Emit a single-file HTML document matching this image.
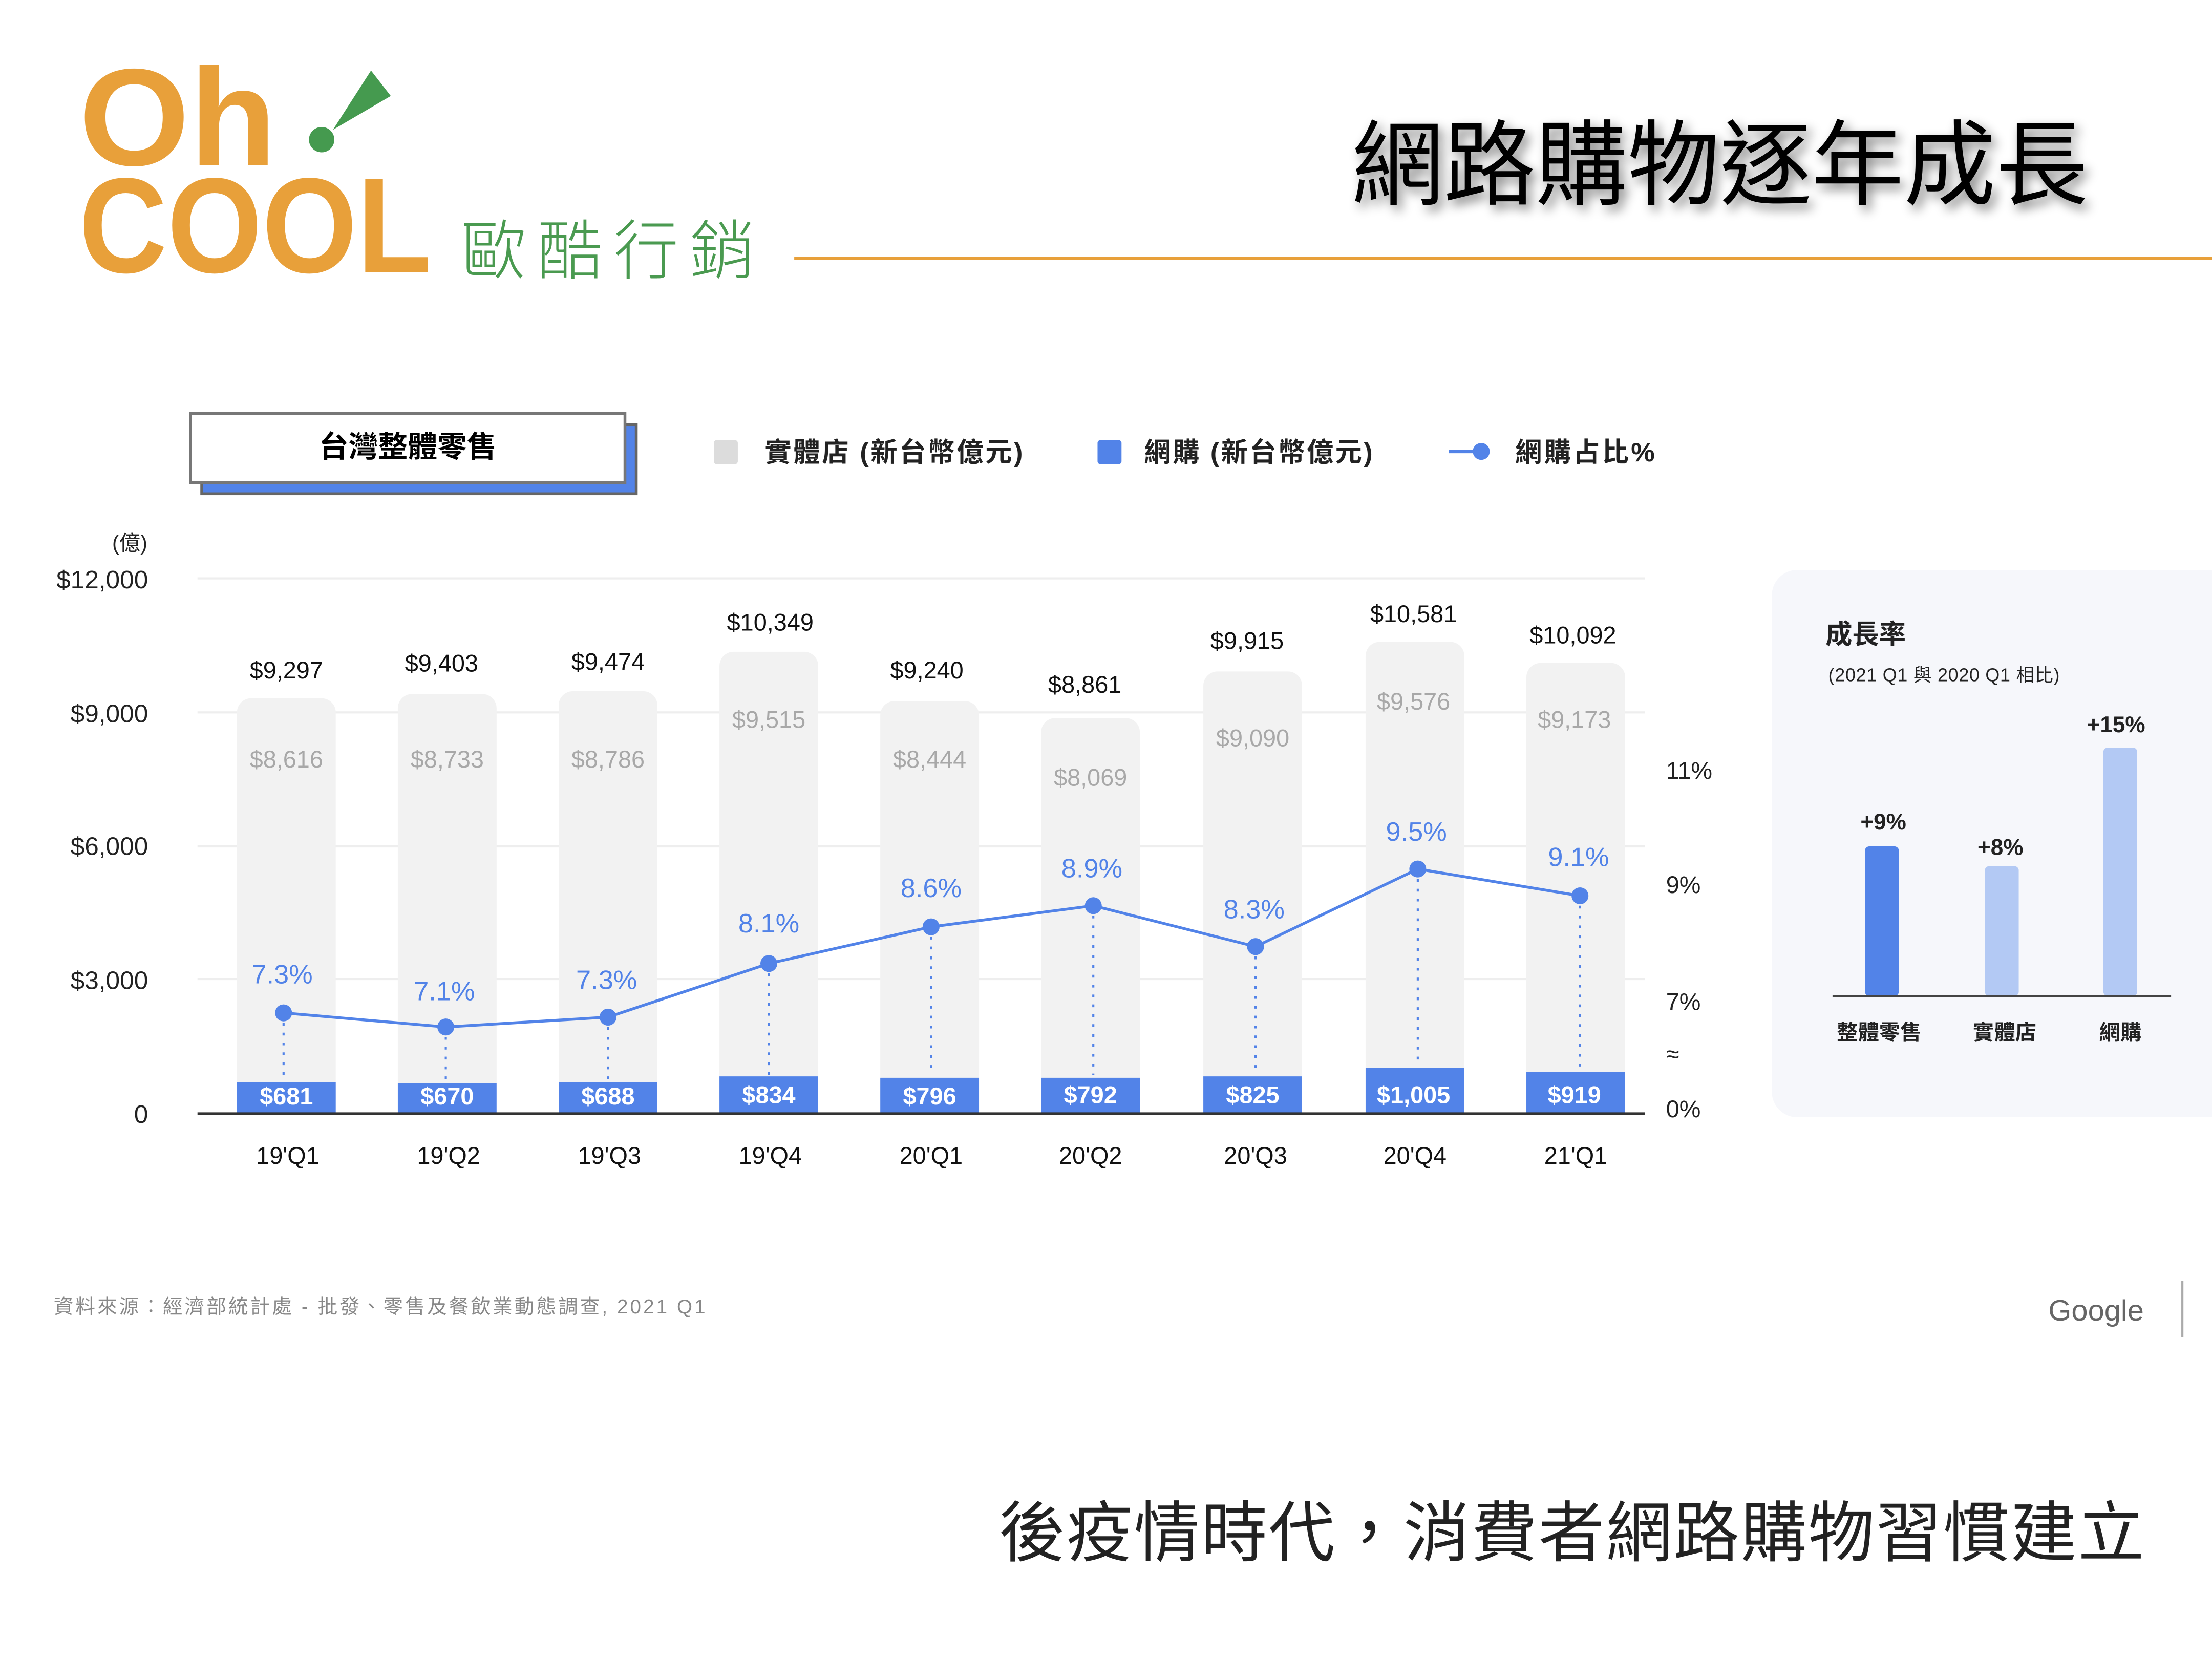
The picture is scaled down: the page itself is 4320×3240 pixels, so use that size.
<!DOCTYPE html>
<html><head><meta charset="utf-8">
<style>
html,body{margin:0;padding:0;background:#fff;}
svg{display:block;}
text{font-family:"Liberation Sans","Noto Sans CJK TC",sans-serif;}
</style></head>
<body>
<svg width="4320" height="3240" viewBox="0 0 1568 1176" xmlns="http://www.w3.org/2000/svg">
<defs>
<filter id="sh" x="-10%" y="-30%" width="120%" height="160%"><feGaussianBlur in="SourceAlpha" stdDeviation="4"/><feOffset dx="3" dy="4"/><feComponentTransfer><feFuncA type="linear" slope="0.5"/></feComponentTransfer><feMerge><feMergeNode/><feMergeNode in="SourceGraphic"/></feMerge></filter>
</defs>
<rect width="1568" height="1176" fill="#fff"/>
<!-- logo -->
<text x="56" y="117" font-size="98" font-weight="bold" fill="#E8A03A" textLength="140" lengthAdjust="spacingAndGlyphs">Oh</text>
<text x="56" y="193" font-size="96" font-weight="bold" fill="#E8A03A" textLength="250" lengthAdjust="spacingAndGlyphs">COOL</text>
<circle cx="228" cy="99" r="9" fill="#459A4F"/>
<polygon points="263,50 277,68 236,92" fill="#459A4F"/>
<text x="327" y="194" font-size="46" fill="#4A9A50" letter-spacing="8" textLength="216" style="font-family:'Noto Sans CJK TC',sans-serif;font-weight:300">歐酷行銷</text>
<line x1="563" y1="183" x2="1568" y2="183" stroke="#E8A03A" stroke-width="2"/>
<!-- title -->
<text x="958" y="140" font-size="66" fill="#000" filter="url(#sh)" textLength="522" lengthAdjust="spacingAndGlyphs">網路購物逐年成長</text>
<!-- box -->
<rect x="143" y="301" width="308" height="49" fill="#5283E8" stroke="#666" stroke-width="2"/>
<rect x="135" y="293" width="308" height="49" fill="#fff" stroke="#777" stroke-width="2"/>
<text x="289" y="324" font-size="21" font-weight="bold" text-anchor="middle">台灣整體零售</text>
<!-- legend -->
<rect x="506" y="312" width="17" height="17" rx="2" fill="#DCDCDC"/>
<text x="542" y="327" font-size="19" font-weight="bold" fill="#222" textLength="183">實體店 (新台幣億元)</text>
<rect x="778" y="312" width="17" height="17" rx="2" fill="#5283E8"/>
<text x="811" y="327" font-size="19" font-weight="bold" fill="#222" textLength="162">網購 (新台幣億元)</text>
<line x1="1027" y1="320" x2="1056" y2="320" stroke="#5283E8" stroke-width="2.5"/>
<circle cx="1050" cy="320" r="6" fill="#5283E8"/>
<text x="1074" y="327" font-size="19" font-weight="bold" fill="#222" textLength="99">網購占比%</text>
<!-- axis -->
<text x="92" y="390" font-size="15" text-anchor="middle" fill="#222">(億)</text>
<g font-size="18" fill="#222" text-anchor="end">
<text x="105" y="417">$12,000</text>
<text x="105" y="512">$9,000</text>
<text x="105" y="606">$6,000</text>
<text x="105" y="701">$3,000</text>
<text x="105" y="796">0</text>
</g>
<g stroke="#EEEEEE" stroke-width="1.5">
<line x1="140" y1="410" x2="1166" y2="410"/>
<line x1="140" y1="505" x2="1166" y2="505"/>
<line x1="140" y1="600" x2="1166" y2="600"/>
<line x1="140" y1="694" x2="1166" y2="694"/>
</g>
<g font-size="17" fill="#222">
<text x="1181" y="552">11%</text>
<text x="1181" y="633">9%</text>
<text x="1181" y="716">7%</text>
<text x="1181" y="753">≈</text>
<text x="1181" y="792">0%</text>
</g>
<!-- bars -->
<g fill="#F2F2F2">
<rect x="168" y="495" width="70" height="294" rx="10"/>
<rect x="282" y="492" width="70" height="297" rx="10"/>
<rect x="396" y="490" width="70" height="299" rx="10"/>
<rect x="510" y="462" width="70" height="327" rx="10"/>
<rect x="624" y="497" width="70" height="292" rx="10"/>
<rect x="738" y="509" width="70" height="280" rx="10"/>
<rect x="853" y="476" width="70" height="313" rx="10"/>
<rect x="968" y="455" width="70" height="334" rx="10"/>
<rect x="1082" y="470" width="70" height="319" rx="10"/>
</g>
<g fill="#5283E8">
<rect x="168" y="767" width="70" height="22"/>
<rect x="282" y="768" width="70" height="21"/>
<rect x="396" y="767" width="70" height="22"/>
<rect x="510" y="763" width="70" height="26"/>
<rect x="624" y="764" width="70" height="25"/>
<rect x="738" y="764" width="70" height="25"/>
<rect x="853" y="763" width="70" height="26"/>
<rect x="968" y="757" width="70" height="32"/>
<rect x="1082" y="760" width="70" height="29"/>
</g>
<line x1="140" y1="789.5" x2="1166" y2="789.5" stroke="#333" stroke-width="2"/>
<!-- totals -->
<g font-size="17" fill="#111" text-anchor="middle">
<text x="203" y="481">$9,297</text>
<text x="313" y="476">$9,403</text>
<text x="431" y="475">$9,474</text>
<text x="546" y="447">$10,349</text>
<text x="657" y="481">$9,240</text>
<text x="769" y="491">$8,861</text>
<text x="884" y="460">$9,915</text>
<text x="1002" y="441">$10,581</text>
<text x="1115" y="456">$10,092</text>
</g>
<g font-size="17" fill="#A8A8A8" text-anchor="middle">
<text x="203" y="544">$8,616</text>
<text x="317" y="544">$8,733</text>
<text x="431" y="544">$8,786</text>
<text x="545" y="516">$9,515</text>
<text x="659" y="544">$8,444</text>
<text x="773" y="557">$8,069</text>
<text x="888" y="529">$9,090</text>
<text x="1002" y="503">$9,576</text>
<text x="1116" y="516">$9,173</text>
</g>
<g font-size="17" font-weight="bold" fill="#fff" text-anchor="middle">
<text x="203" y="783">$681</text>
<text x="317" y="783">$670</text>
<text x="431" y="783">$688</text>
<text x="545" y="782">$834</text>
<text x="659" y="783">$796</text>
<text x="773" y="782">$792</text>
<text x="888" y="782">$825</text>
<text x="1002" y="782">$1,005</text>
<text x="1116" y="782">$919</text>
</g>
<!-- dotted drops -->
<g stroke="#5283E8" stroke-width="1.5" stroke-dasharray="2,5">
<line x1="201" y1="718" x2="201" y2="766"/>
<line x1="316" y1="728" x2="316" y2="766"/>
<line x1="431" y1="721" x2="431" y2="766"/>
<line x1="545" y1="683" x2="545" y2="762"/>
<line x1="660" y1="657" x2="660" y2="762"/>
<line x1="775" y1="642" x2="775" y2="762"/>
<line x1="890" y1="671" x2="890" y2="762"/>
<line x1="1005" y1="616" x2="1005" y2="756"/>
<line x1="1120" y1="635" x2="1120" y2="759"/>
</g>
<polyline points="201,718 316,728 431,721 545,683 660,657 775,642 890,671 1005,616 1120,635" fill="none" stroke="#5283E8" stroke-width="2"/>
<g fill="#5283E8">
<circle cx="201" cy="718" r="6"/><circle cx="316" cy="728" r="6"/><circle cx="431" cy="721" r="6"/>
<circle cx="545" cy="683" r="6"/><circle cx="660" cy="657" r="6"/><circle cx="775" cy="642" r="6"/>
<circle cx="890" cy="671" r="6"/><circle cx="1005" cy="616" r="6"/><circle cx="1120" cy="635" r="6"/>
</g>
<g font-size="19" fill="#5283E8" text-anchor="middle">
<text x="200" y="697">7.3%</text>
<text x="315" y="709">7.1%</text>
<text x="430" y="701">7.3%</text>
<text x="545" y="661">8.1%</text>
<text x="660" y="636">8.6%</text>
<text x="774" y="622">8.9%</text>
<text x="889" y="651">8.3%</text>
<text x="1004" y="596">9.5%</text>
<text x="1119" y="614">9.1%</text>
</g>
<g font-size="17" fill="#111" text-anchor="middle">
<text x="204" y="825">19'Q1</text>
<text x="318" y="825">19'Q2</text>
<text x="432" y="825">19'Q3</text>
<text x="546" y="825">19'Q4</text>
<text x="660" y="825">20'Q1</text>
<text x="773" y="825">20'Q2</text>
<text x="890" y="825">20'Q3</text>
<text x="1003" y="825">20'Q4</text>
<text x="1117" y="825">21'Q1</text>
</g>
<!-- right panel -->
<rect x="1256" y="404" width="340" height="388" rx="18" fill="#F6F7FB"/>
<text x="1294" y="456" font-size="19" font-weight="bold" fill="#222">成長率</text>
<text x="1296" y="483" font-size="13" fill="#222" textLength="164">(2021 Q1 與 2020 Q1  相比)</text>
<rect x="1322" y="600" width="24" height="106" rx="3" fill="#5283E8"/>
<rect x="1407" y="614" width="24" height="92" rx="3" fill="#B3C9F4"/>
<rect x="1491" y="530" width="24" height="176" rx="3" fill="#B3C9F4"/>
<line x1="1299" y1="706" x2="1539" y2="706" stroke="#444" stroke-width="1.5"/>
<g font-size="16" font-weight="bold" fill="#222" text-anchor="middle">
<text x="1335" y="588">+9%</text>
<text x="1418" y="606">+8%</text>
<text x="1500" y="519">+15%</text>
</g>
<g font-size="15" font-weight="bold" fill="#222" text-anchor="middle">
<text x="1332" y="737">整體零售</text>
<text x="1421" y="737">實體店</text>
<text x="1503" y="737">網購</text>
</g>
<!-- footer -->
<text x="38" y="931" font-size="14" fill="#888" textLength="462">資料來源：經濟部統計處 - 批發、零售及餐飲業動態調查, 2021 Q1</text>
<text x="1452" y="936" font-size="21" fill="#666">Google</text>
<line x1="1547" y1="908" x2="1547" y2="948" stroke="#aaa" stroke-width="1.5"/>
<text x="708" y="1103" font-size="47" fill="#222" textLength="812">後疫情時代，消費者網路購物習慣建立</text>
</svg>
</body></html>
